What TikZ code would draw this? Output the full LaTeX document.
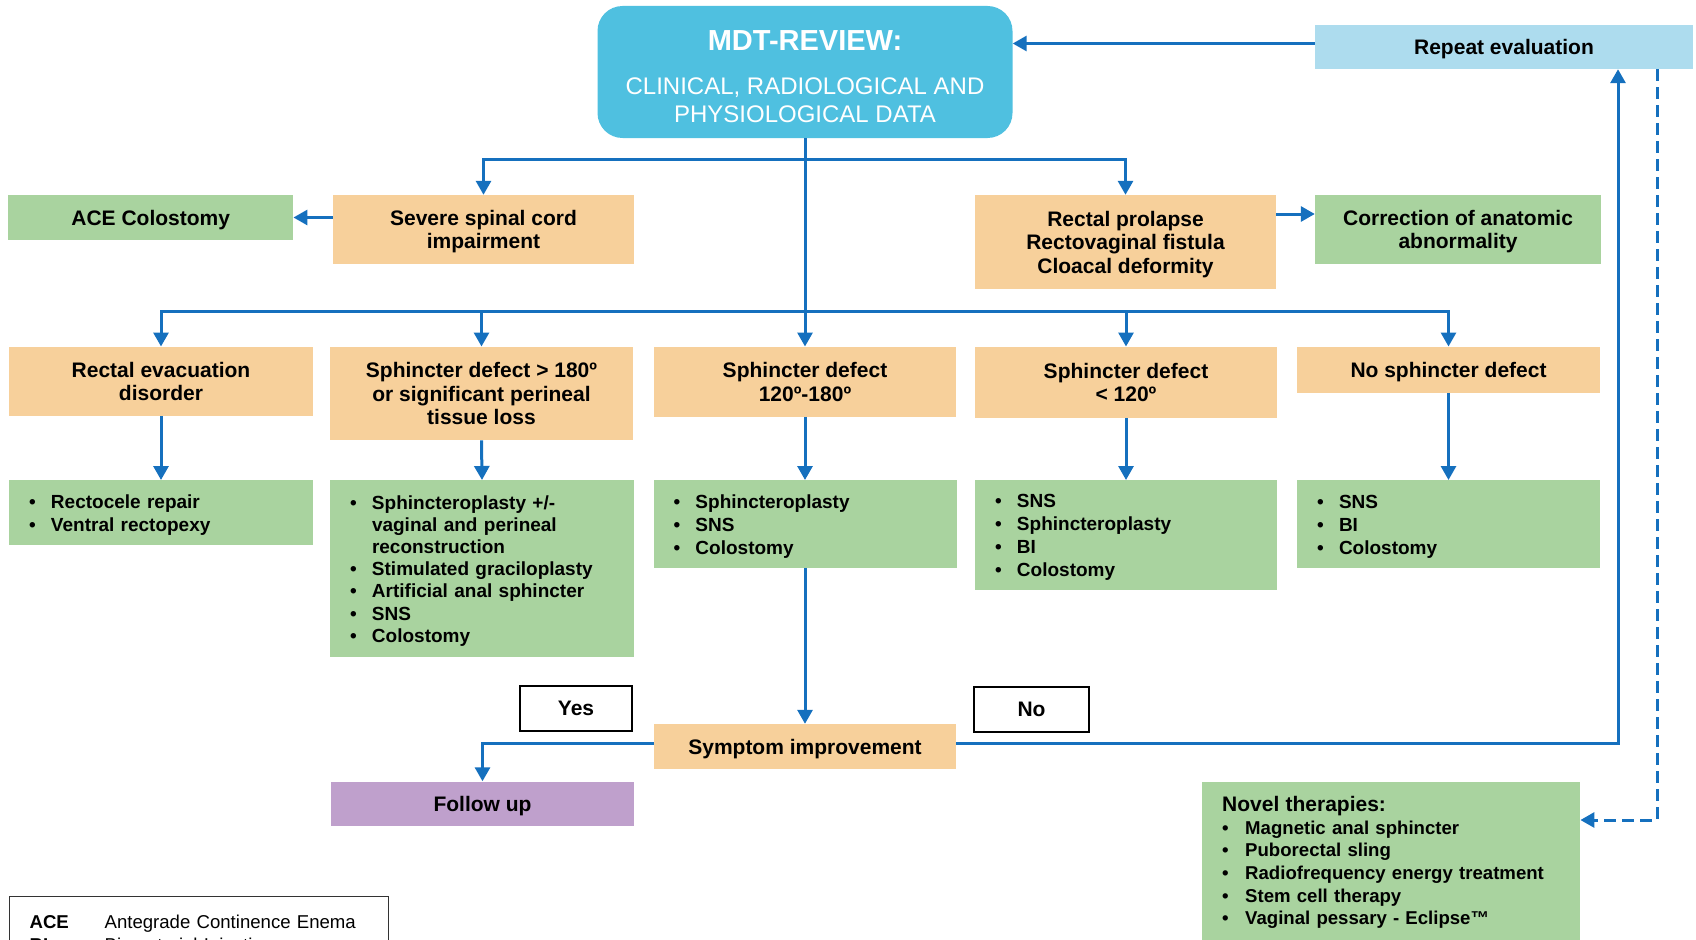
\documentclass[tikz,border=0pt]{standalone}
\usepackage{fontspec}
\setmainfont{Liberation Sans}
\usetikzlibrary{arrows.meta}
\definecolor{mdtcyan}{HTML}{4FC0E0}
\definecolor{repblue}{HTML}{ADDCEE}
\definecolor{peach}{HTML}{F7D09B}
\definecolor{leaf}{HTML}{A9D39F}
\definecolor{lilac}{HTML}{BFA0CC}
\definecolor{flow}{HTML}{1570BE}
\newcommand{\li}{\rule{0pt}{18pt}\makebox[22pt][l]{\textbullet}}

\begin{document}
\begin{tikzpicture}[
    x=1pt, y=-1pt,
    box/.style={inner sep=0pt, text depth=0pt, align=center, font=\fontsize{21}{23.5}\selectfont\bfseries},
    cond/.style={box, fill=peach},
    todo/.style={box, fill=leaf},
    list/.style={fill=leaf, anchor=north, inner xsep=20pt, inner ysep=0pt, align=left, font=\fontsize{19}{23}\selectfont\bfseries},
    answer/.style={box, fill=white, draw=black, line width=1.2pt},
    arr/.style={-{Triangle[length=14pt,width=15pt]}, line width=3pt, flow},
    ln/.style={line width=3pt, flow}
]
    \useasboundingbox (0,0) rectangle (1696,939);
    \clip (0,0) rectangle (1696,939);

    % --- MDT review (top) ---
    \node[fill=mdtcyan, rounded corners=25pt, minimum width=415pt, minimum height=132pt, inner sep=0pt, align=center, text=white, font=\fontsize{24}{28}\selectfont] (mdt) at (805,72)
        {\rule{0pt}{29pt}{\fontsize{29}{29}\selectfont\bfseries MDT-REVIEW:}\\[16pt] CLINICAL, RADIOLOGICAL AND\\ PHYSIOLOGICAL DATA};
    \node[box, fill=repblue, minimum width=378pt, minimum height=44pt] (repeat) at (1504,47) {Repeat evaluation};

    % First level
    \node[cond, minimum width=301pt, minimum height=69pt] (spinal) at (483.5,229.5) {Severe spinal cord\\ impairment};
    \node[todo, minimum width=285pt, minimum height=45pt] (ace) at (150.75,217.5) {ACE Colostomy};
    \node[cond, minimum width=301pt, minimum height=94pt] (prolapse) at (1125.5,242) {Rectal prolapse\\ Rectovaginal fistula\\ Cloacal deformity};
    \node[todo, minimum width=286pt, minimum height=69pt] (correct) at (1458,229.5) {Correction of anatomic\\ abnormality};

    % --- Sphincter assessment row ---
    \node[cond, anchor=north, minimum width=304pt, minimum height=69.5pt] (red) at (161,346.5) {Rectal evacuation\\ disorder};
    \node[cond, anchor=north, minimum width=303pt, minimum height=93.5pt] (sd1) at (481.5,346.5) {Sphincter defect > 180º\\ or significant perineal\\ tissue loss};
    \node[cond, anchor=north, minimum width=302pt, minimum height=70pt] (sd2) at (805,346.5) {Sphincter defect\\ 120º-180º};
    \node[cond, anchor=north, minimum width=302pt, minimum height=71pt] (sd3) at (1126,346.5) {Sphincter defect\\ < 120º};
    \node[cond, anchor=north, minimum width=303pt, minimum height=46pt] (nosd) at (1448.5,346.5) {No sphincter defect};

    % --- Treatment options ---
    \node[list, text width=264pt, minimum height=65pt] (trec) at (161,480) {\li Rectocele repair\\ \li Ventral rectopexy};
    \node[list, text width=264pt, minimum height=177pt, font=\fontsize{19}{22.2}\selectfont\bfseries] (t1) at (482,480)
        {\li Sphincteroplasty +/-\\ \hspace*{22pt}vaginal and perineal\\ \hspace*{22pt}reconstruction\\ \li Stimulated graciloplasty\\ \li Artificial anal sphincter\\ \li SNS\\ \li Colostomy};
    \node[list, text width=263pt, minimum height=88pt] (t2) at (805,480) {\li Sphincteroplasty\\ \li SNS\\ \li Colostomy};
    \node[list, text width=262pt, minimum height=110pt] (t3) at (1126,480) {\li SNS\\ \li Sphincteroplasty\\ \li BI\\ \li Colostomy};
    \node[list, text width=263pt, minimum height=88pt] (t4) at (1448.5,480) {\li SNS\\ \li BI\\ \li Colostomy};

    % --- Outcome ---
    \node[cond, minimum width=302pt, minimum height=45pt] (symp) at (805,746.5) {Symptom improvement};
    \node[answer, minimum width=112pt, minimum height=45pt] (yes) at (576,708.5) {Yes};
    \node[answer, minimum width=115pt, minimum height=45pt] (no) at (1031.5,709.5) {No};
    \node[box, fill=lilac, minimum width=303pt, minimum height=44pt] (follow) at (482.5,803.5) {Follow up};
    \node[fill=leaf, anchor=north west, text width=338pt, inner xsep=20pt, inner ysep=14pt, align=left, font=\fontsize{18.6}{22.7}\selectfont\bfseries] (novel) at (1202,782)
        {{\fontsize{21}{22.7}\selectfont Novel therapies:}\\ \makebox[23pt][l]{\textbullet}Magnetic anal sphincter\\ \makebox[23pt][l]{\textbullet}Puborectal sling\\ \makebox[23pt][l]{\textbullet}Radiofrequency energy treatment\\ \makebox[23pt][l]{\textbullet}Stem cell therapy\\ \makebox[23pt][l]{\textbullet}Vaginal pessary - Eclipse™};

    % Legend
    \node[anchor=north west, draw=black!80, line width=1.2pt, text width=339pt, inner xsep=20pt, inner ysep=18.4pt, align=left, font=\fontsize{18.6}{23}\selectfont] (legend) at (9,896)
        {\makebox[75pt][l]{\textbf{ACE}}Antegrade Continence Enema\\ \makebox[75pt][l]{\textbf{BI}}Biomaterial Injection};

    % --- Connectors ---
    \coordinate (bus1) at (805,159);
    \coordinate (bus2) at (805,311);
    \draw[arr] (mdt.south) -- (sd2.north);
    \draw[arr] (bus1) -| (spinal.north);
    \draw[arr] (bus1) -| (prolapse.north);
    \draw[arr] (spinal.west |- ace.east) -- (ace.east);
    \draw[arr] ([yshift=15.5pt]prolapse.east |- correct.west) -- ([yshift=15.5pt]correct.west);
    \draw[arr] (bus2) -| (red.north);
    \draw[arr] (bus2) -| (sd1.north);
    \draw[arr] (bus2) -| (sd3.north);
    \draw[arr] (bus2) -| (nosd.north);
    \draw[arr] (red.south) -- (trec.north);
    \draw[arr] (sd1.south) -- (t1.north);
    \draw[arr] (sd2.south) -- (t2.north);
    \draw[arr] (sd3.south) -- (t3.north);
    \draw[arr] (nosd.south) -- (t4.north);
    \draw[arr] (t2.south) -- (symp.north);
    \draw[arr] ([yshift=3.5pt]symp.west) -| (follow.north);
    \draw[arr] ([yshift=3.5pt]symp.east) -| ([xshift=114pt]repeat.south);
    \draw[arr] ([yshift=3.5pt]repeat.west) -- ([yshift=3.5pt]mdt.east |- repeat.west);
    \draw[arr, dash pattern=on 12pt off 6pt] ([xshift=153pt]repeat.south) |- ([yshift=-38pt]novel.north east);
\end{tikzpicture}
\end{document}
